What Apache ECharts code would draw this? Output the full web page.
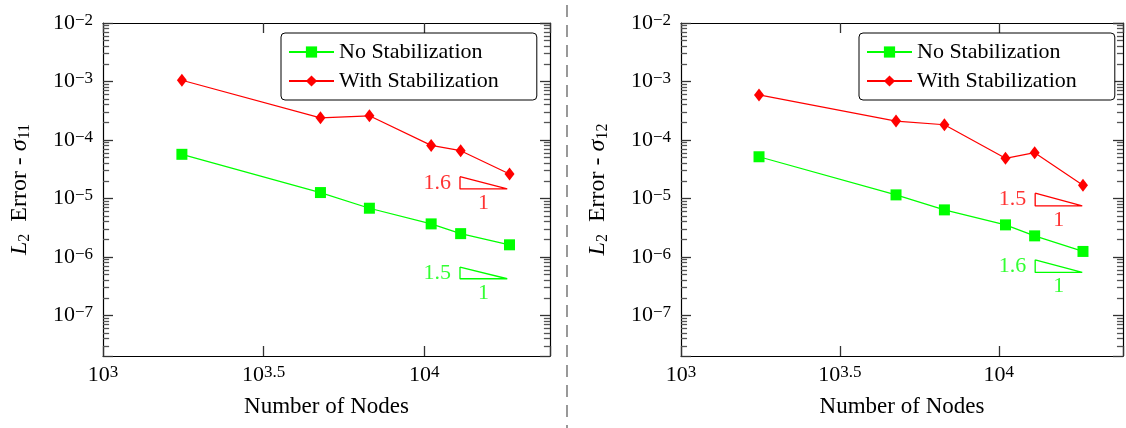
<!DOCTYPE html>
<html>
<head>
<meta charset="utf-8">
<script src="https://cdn.jsdelivr.net/npm/echarts@6/dist/echarts.min.js"></script>
<style>
html, body { margin: 0; padding: 0; background: #fff; }
#main { width: 1126px; height: 428px; }
</style>
</head>
<body>
<div id="main"></div>
<script>
// number of nodes (same meshes in both panels)
const nodes = [1760, 4750, 6745, 10500, 12970, 18410];

// L2 error of sigma_11
const s11NoStab = [5.68e-5, 1.26e-5, 6.8e-6, 3.67e-6, 2.5e-6, 1.61e-6];
const s11Stab = [1.05e-3, 2.39e-4, 2.59e-4, 8.07e-5, 6.55e-5, 2.62e-5];
// L2 error of sigma_12
const s12NoStab = [5.16e-5, 1.15e-5, 6.37e-6, 3.53e-6, 2.29e-6, 1.24e-6];
const s12Stab = [5.9e-4, 2.1e-4, 1.82e-4, 4.85e-5, 6.05e-5, 1.68e-5];

// slope triangles: x = [left, right], y = [top, bottom]
const triX11 = [12910, 18110];
const tri11Stab = [2.355e-5, 1.452e-5];
const tri11NoStab = [6.70e-7, 4.23e-7];
const triX12 = [13020, 18310];
const tri12Stab = [1.227e-5, 7.45e-6];
const tri12NoStab = [8.91e-7, 5.42e-7];
const slope11 = ['1.6', '1.5'];   // with stab, no stab
const slope12 = ['1.5', '1.6'];

const names = ['No Stabilization', 'With Stabilization'];

const FONT = 'Liberation Serif';
const GREEN = '#00ff00';
const RED = '#ff0000';
const xMin = 3, xMax = 4.391;      // log10 of nodes
const yMin = 2.02e-8, yMax = 1e-2;
const minorLen = 0.019;            // minor tick length, in decades of x
const lg = v => Math.log10(v);

function expLabel(e) {
  const s = e < 0 ? '\u2212' + (-e) : String(e);
  return '{b|10}{p|' + s + '}';
}
const tickRich = {
  b: { fontFamily: FONT, fontSize: 22, lineHeight: 22, color: '#000' },
  p: { fontFamily: FONT, fontSize: 17, lineHeight: 13, verticalAlign: 'top', color: '#000' }
};

// log minor ticks 2..9 per decade
const minorVals = [];
for (let d = -8; d <= -3; d++) {
  for (let m = 2; m <= 9; m++) {
    const v = m * Math.pow(10, d);
    if (v > yMin && v < yMax) minorVals.push(v);
  }
}
const minorLines = [];
minorVals.forEach(v => {
  minorLines.push([{ coord: [xMin, v] }, { coord: [xMin + minorLen, v] }]);
  minorLines.push([{ coord: [xMax - minorLen, v] }, { coord: [xMax, v] }]);
});

const grids = [
  { left: 103, top: 23, width: 447, height: 333 },
  { left: 681, top: 23, width: 447, height: 333 }
];

function axisLine() {
  return { show: true, onZero: false, lineStyle: { color: '#000', width: 1.2 } };
}
function axisTick() {
  return { show: true, inside: true, length: 10, lineStyle: { color: '#333', width: 1.3 } };
}

let xAxes = [], yAxes = [], series = [], legends = [];

function panel(i, noStab, stab, triX, triStab, triNoStab, slopes, sub, legendLeft) {
  xAxes.push({
    gridIndex: i, type: 'value', min: xMin, max: xMax, interval: 0.5, position: 'bottom',
    axisLine: axisLine(), axisTick: axisTick(), splitLine: { show: false },
    axisLabel: {
      margin: 8, rich: tickRich,
      formatter: v => Math.abs(v * 2 - Math.round(v * 2)) > 1e-6 ? '' : expLabel(+v.toFixed(1))
    },
    name: 'Number of Nodes', nameLocation: 'middle', nameGap: 39,
    nameTextStyle: { fontFamily: FONT, fontSize: 23, color: '#000' }
  });
  xAxes.push({
    gridIndex: i, type: 'value', min: xMin, max: xMax, interval: 0.5, position: 'top',
    axisLine: axisLine(), axisTick: axisTick(), splitLine: { show: false }, axisLabel: { show: false }
  });
  yAxes.push({
    gridIndex: i, type: 'log', logBase: 10, min: yMin, max: yMax, position: 'left',
    axisLine: axisLine(), axisTick: axisTick(), splitLine: { show: false },
    axisLabel: {
      margin: 10, rich: tickRich,
      formatter: v => {
        const e = Math.log10(v);
        return Math.abs(e - Math.round(e)) > 0.01 ? '' : expLabel(Math.round(e));
      }
    },
    name: '{i|L}{s|2}  Error - {i|\u03c3}{s|' + sub + '}',
    nameLocation: 'middle', nameGap: 70, nameRotate: 90,
    nameTextStyle: {
      fontFamily: FONT, fontSize: 24, lineHeight: 26, color: '#000',
      rich: {
        i: { fontFamily: FONT, fontSize: 24, fontStyle: 'italic', lineHeight: 26, color: '#000' },
        s: { fontFamily: FONT, fontSize: 16, lineHeight: 12, verticalAlign: 'bottom', color: '#000' }
      }
    }
  });
  yAxes.push({
    gridIndex: i, type: 'log', logBase: 10, min: yMin, max: yMax, position: 'right',
    axisLine: axisLine(), axisTick: axisTick(), splitLine: { show: false }, axisLabel: { show: false }
  });

  const xi = 2 * i, yi = 2 * i;
  series.push({
    name: names[0], type: 'line', xAxisIndex: xi, yAxisIndex: yi,
    data: nodes.map((n, k) => [lg(n), noStab[k]]),
    symbol: 'rect', symbolSize: 11, showAllSymbol: true,
    lineStyle: { color: GREEN, width: 1.2 }, itemStyle: { color: GREEN }, z: 3,
    markLine: {
      silent: true, symbol: ['none', 'none'], label: { show: false },
      lineStyle: { color: '#555', width: 1.3, type: 'solid' },
      data: minorLines
    }
  });
  series.push({
    name: names[1], type: 'line', xAxisIndex: xi, yAxisIndex: yi,
    data: nodes.map((n, k) => [lg(n), stab[k]]),
    symbol: 'diamond', symbolSize: [10, 13], showAllSymbol: true,
    lineStyle: { color: RED, width: 1.2 }, itemStyle: { color: RED }, z: 4
  });

  [[triStab, RED, slopes[0]], [triNoStab, GREEN, slopes[1]]].forEach(([ty, col, txt]) => {
    const x1 = lg(triX[0]), x2 = lg(triX[1]);
    series.push({
      type: 'line', xAxisIndex: xi, yAxisIndex: yi, silent: true, symbol: 'none', z: 2,
      lineStyle: { color: col, width: 1.3 },
      data: [[x1, ty[0]], [x1, ty[1]], [x2, ty[1]], [x1, ty[0]]]
    });
    series.push({
      type: 'scatter', xAxisIndex: xi, yAxisIndex: yi, silent: true, symbolSize: 0, z: 2,
      label: { show: true, color: col, fontFamily: FONT, fontSize: 22 },
      data: [
        { value: [x1, Math.sqrt(ty[0] * ty[1])], label: { position: 'left', distance: 9, formatter: txt } },
        { value: [(x1 + x2) / 2, ty[1]], label: { position: 'bottom', distance: 3, formatter: '1' } }
      ]
    });
  });

  legends.push({
    left: legendLeft, top: 33, orient: 'vertical', data: names, selectedMode: false,
    itemWidth: 45, itemHeight: 14, itemGap: 5, padding: [7, 38, 7, 7],
    borderColor: '#000', borderWidth: 1, borderRadius: 4, backgroundColor: '#fff',
    textStyle: { fontFamily: FONT, fontSize: 22, lineHeight: 24, color: '#000' }
  });
}

panel(0, s11NoStab, s11Stab, triX11, tri11Stab, tri11NoStab, slope11, '11', 281);
panel(1, s12NoStab, s12Stab, triX12, tri12Stab, tri12NoStab, slope12, '12', 859);

const option = {
  animation: false,
  backgroundColor: '#fff',
  grid: grids,
  xAxis: xAxes,
  yAxis: yAxes,
  legend: legends,
  series: series,
  graphic: [{
    type: 'line', silent: true,
    shape: { x1: 567, y1: 5, x2: 567, y2: 428 },
    style: { stroke: '#555', lineWidth: 1.2, lineDash: [12, 8] }
  }]
};

const myChart = echarts.init(document.getElementById('main'));
myChart.setOption(option);
</script>
</body>
</html>
